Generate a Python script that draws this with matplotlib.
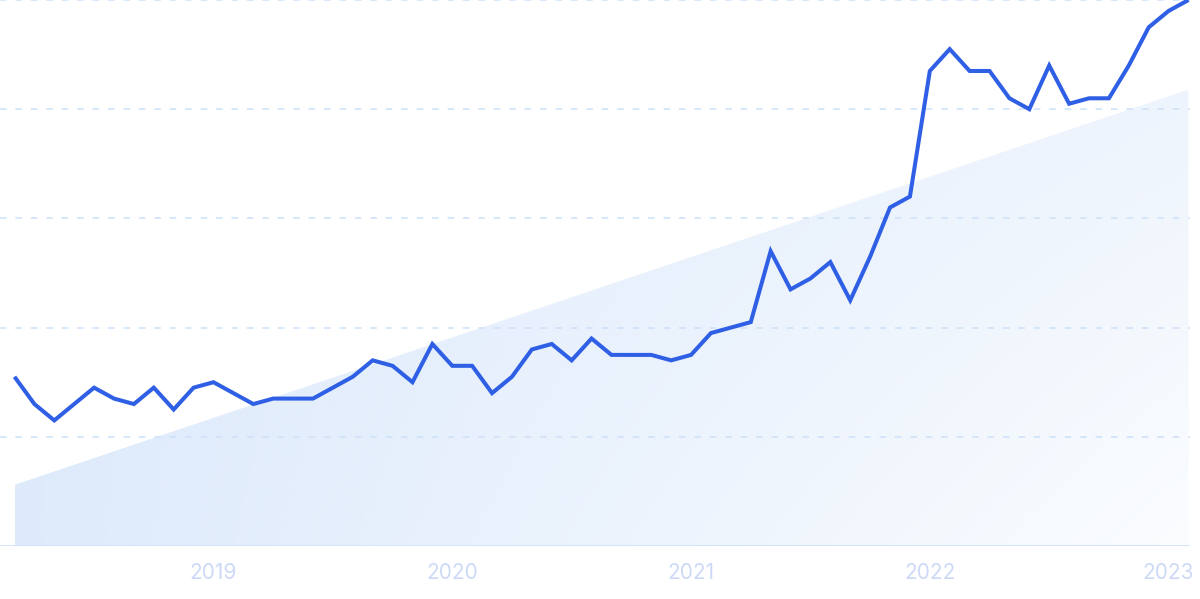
import numpy as np
import matplotlib
matplotlib.use("Agg")
import matplotlib.pyplot as plt
from matplotlib.patches import Polygon

# ---- data ----
months = list(range(60))  # monthly, Mar 2018 .. Feb 2023
values = [31, 26, 23, 26, 29, 27, 26, 29, 25, 29,
          30, 28, 26, 27, 27, 27, 29, 31, 34, 33,
          30, 37, 33, 33, 28, 31, 36, 37, 34, 38,
          35, 35, 35, 34, 35, 39, 40, 41, 54, 47,
          49, 52, 45, 53, 62, 64, 87, 91, 87, 87,
          82, 80, 88, 81, 82, 82, 88, 95, 98, 100]
trend_ends = [11.2, 83.6]          # trend value at first and last month
tick_idx = [10, 22, 34, 46, 58]
tick_labels = ["2019", "2020", "2021", "2022", "2023"]
grid_vals = [20, 40, 60, 80, 100]

W, H = 1200, 599
fig = plt.figure(figsize=(W / 100, H / 100), dpi=100)
ax = fig.add_axes([0, (H - 546) / H, 1190 / W, 546 / H])
ax.set_xlim(-0.729, 59.075)
ax.set_ylim(0, 100)
ax.axis("off")

# gradient trend area
x0, x1 = months[0], months[-1]
poly = Polygon([(x0, 0), (x0, trend_ends[0]), (x1, trend_ends[1]), (x1, 0)],
               closed=True, facecolor="none", edgecolor="none")
ax.add_patch(poly)
nx, ny = 400, 200
xn = np.linspace(0, 1, nx)[None, :]
yn = np.linspace(0, 1, ny)[:, None]
alpha = np.clip(0.82 - 0.72 * xn + 0.38 * yn * xn, 0, 1)
img = np.zeros((ny, nx, 4))
base = np.array([214, 230, 251]) / 255
img[..., 0] = base[0]
img[..., 1] = base[1]
img[..., 2] = base[2]
img[..., 3] = alpha
im = ax.imshow(img, extent=[x0, x1, 0, 100], origin="lower", aspect="auto",
               interpolation="bilinear", zorder=1)
im.set_clip_path(poly)

# grid lines
for g in grid_vals:
    ax.axhline(g, color="#cde1fa", lw=1.1, dashes=(4.3, 5.8), zorder=2, clip_on=False)
ax.axhline(0, color="#d2e4fb", lw=1.4, zorder=2)

# main line
ax.plot(months, values, color="#2e5fe4", lw=2.9, solid_joinstyle="miter",
        solid_capstyle="butt", zorder=3, clip_on=False)

# tick labels
for i, lab in zip(tick_idx, tick_labels):
    ax.text(i, -4.9, lab, ha="center", va="center", fontsize=15,
            family=["Inter", "DejaVu Sans"], color="#cdd9f6", clip_on=False)

fig.savefig("out.png", dpi=100)
